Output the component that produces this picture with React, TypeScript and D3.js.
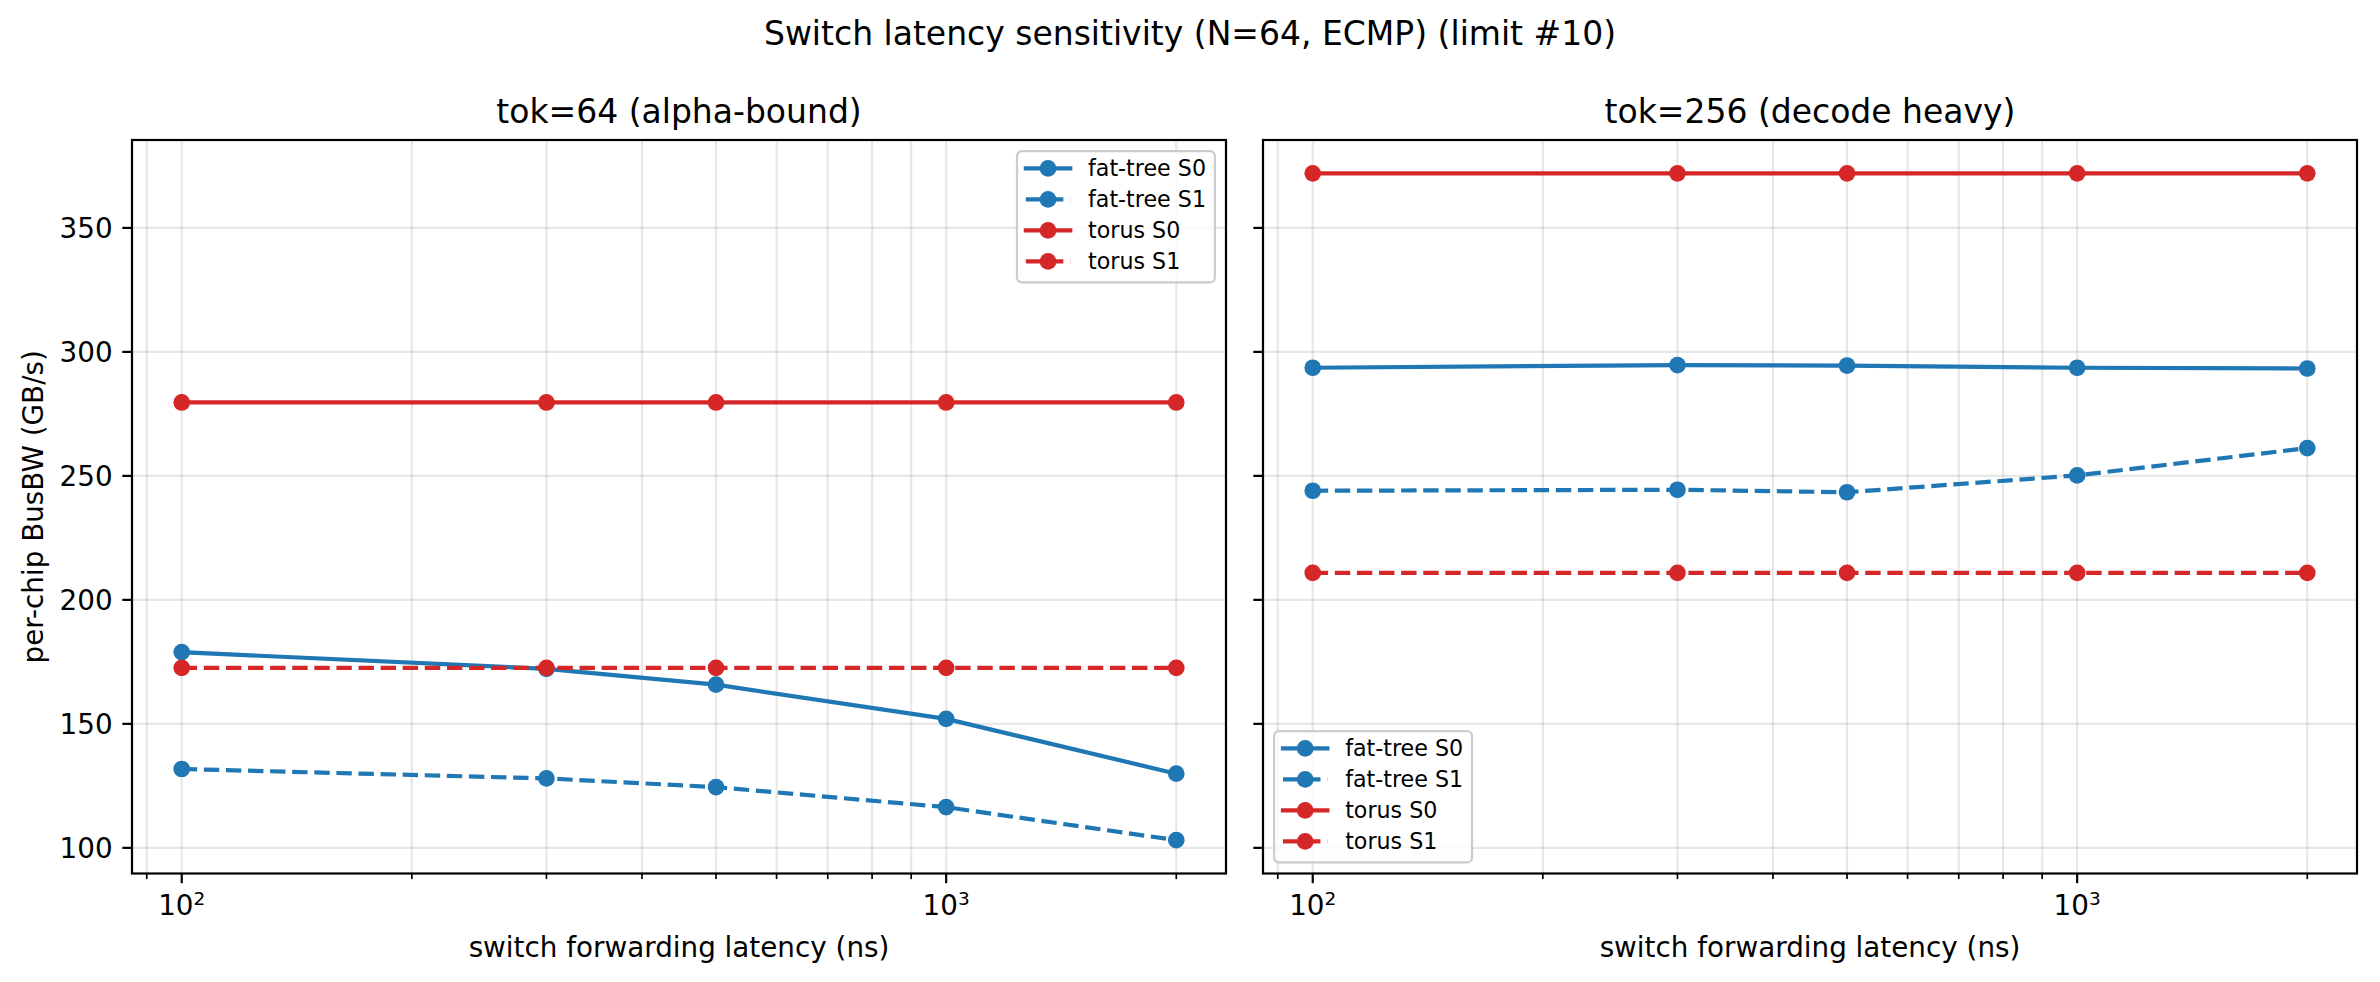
import { useEffect, useRef } from 'react'
import * as d3 from 'd3'

// switch forwarding latency (ns), shared x values
const latencies = [100, 300, 500, 1000, 2000]

// tok=64 panel
const tok64FatTreeS0 = [178.9, 172.2, 165.8, 152.0, 129.9]
const tok64FatTreeS1 = [131.8, 128.0, 124.5, 116.4, 103.1]
const tok64TorusS0 = [279.6, 279.6, 279.6, 279.6, 279.6]
const tok64TorusS1 = [172.6, 172.6, 172.6, 172.6, 172.6]

// tok=256 panel
const tok256FatTreeS0 = [293.6, 294.7, 294.5, 293.6, 293.3]
const tok256FatTreeS1 = [244.0, 244.4, 243.4, 250.2, 261.2]
const tok256TorusS0 = [372.0, 372.0, 372.0, 372.0, 372.0]
const tok256TorusS1 = [210.9, 210.9, 210.9, 210.9, 210.9]

const seriesNames = ['fat-tree S0', 'fat-tree S1', 'torus S0', 'torus S1']
const yTicks = [100, 150, 200, 250, 300, 350]
const xMajorTicks = [100, 1000]
const xMinorTicks = [90, 200, 300, 400, 500, 600, 700, 800, 900, 2000]

const BLUE = '#1f77b4'
const RED = '#d62728'

interface Series {
  name: string
  values: number[]
  color: string
  dashed: boolean
}

interface Panel {
  title: string
  left: number
  legend: 'upper right' | 'lower left'
  series: Series[]
}

const makeSeries = (vals: number[][]): Series[] =>
  vals.map((v, i) => ({
    name: seriesNames[i],
    values: v,
    color: i < 2 ? BLUE : RED,
    dashed: i % 2 === 1
  }))

const panels: Panel[] = [
  {
    title: 'tok=64 (alpha-bound)',
    left: 132,
    legend: 'upper right',
    series: makeSeries([tok64FatTreeS0, tok64FatTreeS1, tok64TorusS0, tok64TorusS1])
  },
  {
    title: 'tok=256 (decode heavy)',
    left: 1263,
    legend: 'lower left',
    series: makeSeries([tok256FatTreeS0, tok256FatTreeS1, tok256TorusS0, tok256TorusS1])
  }
]

const W = 2380
const H = 982
const TOP = 140
const BOTTOM = 873.5
const PW = 1094
const FONT = 'DejaVu Sans, sans-serif'

export default function App() {
  const svgRef = useRef<SVGSVGElement>(null)

  useEffect(() => {
    if (!svgRef.current) return
    const svg = d3.select(svgRef.current)
    svg.selectAll('*').remove()

    svg.append('rect').attr('width', W).attr('height', H).attr('fill', '#fff')

    // shared y domain with matplotlib-like 5% margins
    const all = panels.flatMap(p => p.series.flatMap(s => s.values))
    const yMin = d3.min(all)!
    const yMax = d3.max(all)!
    const yPad = (yMax - yMin) * 0.05
    const y = d3.scaleLinear().domain([yMin - yPad, yMax + yPad]).range([BOTTOM, TOP])

    const lx0 = Math.log10(d3.min(latencies)!)
    const lx1 = Math.log10(d3.max(latencies)!)
    const lxPad = (lx1 - lx0) * 0.05

    // suptitle
    svg.append('text')
      .attr('x', W / 2)
      .attr('y', 45)
      .attr('text-anchor', 'middle')
      .attr('font-family', FONT)
      .attr('font-size', 33)
      .text('Switch latency sensitivity (N=64, ECMP) (limit #10)')

    panels.forEach((panel, pi) => {
      const x = d3.scaleLog()
        .domain([Math.pow(10, lx0 - lxPad), Math.pow(10, lx1 + lxPad)])
        .range([panel.left, panel.left + PW])

      const g = svg.append('g')

      // grid
      const gridColor = '#b0b0b0'
      ;[...xMajorTicks, ...xMinorTicks].forEach(t => {
        g.append('line')
          .attr('x1', x(t)).attr('x2', x(t))
          .attr('y1', TOP).attr('y2', BOTTOM)
          .attr('stroke', gridColor).attr('stroke-opacity', 0.3).attr('stroke-width', 2.2)
      })
      yTicks.forEach(t => {
        g.append('line')
          .attr('x1', panel.left).attr('x2', panel.left + PW)
          .attr('y1', y(t)).attr('y2', y(t))
          .attr('stroke', gridColor).attr('stroke-opacity', 0.3).attr('stroke-width', 2.2)
      })

      // series
      const line = d3.line<number>()
        .x((_, i) => x(latencies[i]))
        .y(d => y(d))

      const clip = `clip-${pi}`
      svg.append('defs').append('clipPath').attr('id', clip)
        .append('rect')
        .attr('x', panel.left).attr('y', TOP).attr('width', PW).attr('height', BOTTOM - TOP)

      panel.series.forEach(s => {
        const sg = g.append('g').attr('clip-path', `url(#${clip})`)
        sg.append('path')
          .datum(s.values)
          .attr('d', line)
          .attr('fill', 'none')
          .attr('stroke', s.color)
          .attr('stroke-width', 4.2)
          .attr('stroke-dasharray', s.dashed ? '15.4,6.7' : null)
          .attr('stroke-linecap', s.dashed ? 'butt' : 'square')
          .attr('stroke-linejoin', 'round')
        sg.selectAll('circle')
          .data(s.values)
          .enter()
          .append('circle')
          .attr('cx', (_, i) => x(latencies[i]))
          .attr('cy', d => y(d))
          .attr('r', 8.35)
          .attr('fill', s.color)
      })

      // spines
      g.append('rect')
        .attr('x', panel.left).attr('y', TOP)
        .attr('width', PW).attr('height', BOTTOM - TOP)
        .attr('fill', 'none').attr('stroke', '#000').attr('stroke-width', 2.2)

      // x ticks
      xMajorTicks.forEach(t => {
        g.append('line')
          .attr('x1', x(t)).attr('x2', x(t))
          .attr('y1', BOTTOM).attr('y2', BOTTOM + 9.7)
          .attr('stroke', '#000').attr('stroke-width', 2.2)
        const txt = g.append('text')
          .attr('x', x(t))
          .attr('y', BOTTOM + 41.5)
          .attr('text-anchor', 'middle')
          .attr('font-family', FONT)
          .attr('font-size', 27.8)
        txt.append('tspan').text('10')
        txt.append('tspan')
          .attr('dy', -10)
          .attr('font-size', 18.5)
          .text(String(Math.round(Math.log10(t))))
      })
      xMinorTicks.forEach(t => {
        g.append('line')
          .attr('x1', x(t)).attr('x2', x(t))
          .attr('y1', BOTTOM).attr('y2', BOTTOM + 5.6)
          .attr('stroke', '#000').attr('stroke-width', 1.7)
      })

      // y ticks
      yTicks.forEach(t => {
        g.append('line')
          .attr('x1', panel.left - 9.7).attr('x2', panel.left)
          .attr('y1', y(t)).attr('y2', y(t))
          .attr('stroke', '#000').attr('stroke-width', 2.2)
        if (pi === 0) {
          g.append('text')
            .attr('x', panel.left - 19.4)
            .attr('y', y(t))
            .attr('dy', '0.36em')
            .attr('text-anchor', 'end')
            .attr('font-family', FONT)
            .attr('font-size', 27.8)
            .text(t)
        }
      })

      // titles
      g.append('text')
        .attr('x', panel.left + PW / 2)
        .attr('y', TOP - 17)
        .attr('text-anchor', 'middle')
        .attr('font-family', FONT)
        .attr('font-size', 33)
        .text(panel.title)

      g.append('text')
        .attr('x', panel.left + PW / 2)
        .attr('y', 957)
        .attr('text-anchor', 'middle')
        .attr('font-family', FONT)
        .attr('font-size', 27.8)
        .text('switch forwarding latency (ns)')

      if (pi === 0) {
        g.append('text')
          .attr('transform', `translate(43,${(TOP + BOTTOM) / 2}) rotate(-90)`)
          .attr('text-anchor', 'middle')
          .attr('font-family', FONT)
          .attr('font-size', 27.8)
          .text('per-chip BusBW (GB/s)')
      }

      // legend
      const fs = 22.2
      const pad = 0.4 * fs
      const handleLen = 2 * fs
      const textPad = 0.8 * fs
      const rowH = 31
      const firstRow = 17.3
      const lg = g.append('g')
      const box = lg.append('rect')
        .attr('fill', '#fff').attr('fill-opacity', 0.8)
        .attr('stroke', '#cccccc').attr('stroke-width', 2.2)
        .attr('rx', 5)
      const labels = panel.series.map((s, i) => {
        const cy = firstRow + i * rowH
        lg.append('line')
          .attr('x1', pad).attr('x2', pad + handleLen)
          .attr('y1', cy).attr('y2', cy)
          .attr('stroke', s.color).attr('stroke-width', 4.2)
          .attr('stroke-dasharray', s.dashed ? '15.4,6.7' : null)
          .attr('stroke-linecap', s.dashed ? 'butt' : 'square')
        lg.append('circle')
          .attr('cx', pad + handleLen / 2).attr('cy', cy).attr('r', 8.35)
          .attr('fill', s.color)
        return lg.append('text')
          .attr('x', pad + handleLen + textPad)
          .attr('y', cy)
          .attr('dy', '0.35em')
          .attr('font-family', FONT)
          .attr('font-size', fs)
          .text(s.name)
      })
      const tw = d3.max(labels, l => (l.node() as SVGTextElement).getComputedTextLength()) || 117
      const bw = pad + handleLen + textPad + tw + pad
      const bh = firstRow + rowH * 3 + 21
      box.attr('width', bw).attr('height', bh)
      const inset = 0.5 * fs
      const lx = panel.legend === 'upper right' ? panel.left + PW - inset - bw : panel.left + inset
      const ly = panel.legend === 'upper right' ? TOP + inset : BOTTOM - inset - bh
      lg.attr('transform', `translate(${lx},${ly})`)
    })
  }, [])

  return (
    <svg
      ref={svgRef}
      width={W}
      height={H}
      style={{ position: 'absolute', left: 0, top: 0, display: 'block' }}
    />
  )
}
